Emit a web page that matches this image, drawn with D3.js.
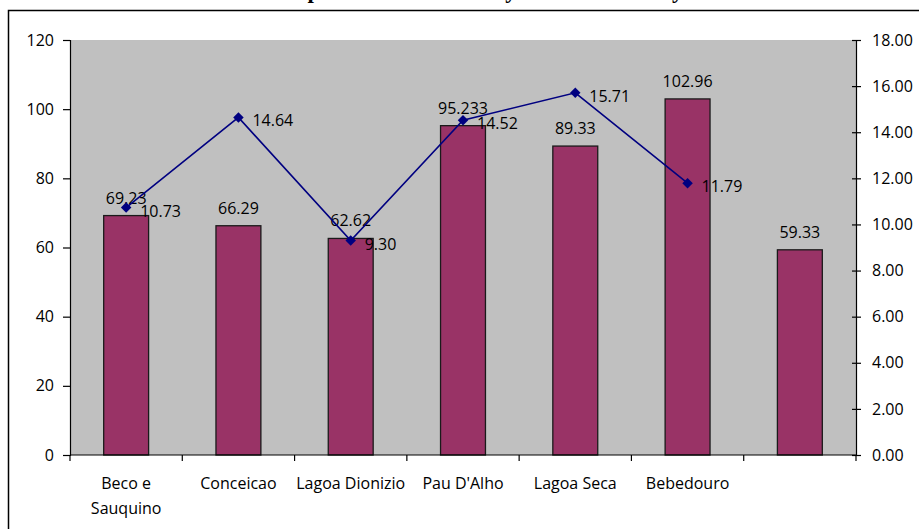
<!DOCTYPE html>
<html>
<head>
<meta charset="utf-8">
<script src="https://cdn.jsdelivr.net/npm/d3@7"></script>
<style>
  html, body { margin: 0; padding: 0; background: #ffffff; }
  svg { display: block; }
  text { font-family: "Open Sans", "Noto Sans", sans-serif; fill: #000; }
</style>
</head>
<body>
<svg id="chart" width="919" height="529"></svg>
<script>
// Localities along the x axis (the last slot has no name)
const categories = ["Beco e Sauquino", "Conceicao", "Lagoa Dionizio", "Pau D'Alho", "Lagoa Seca", "Bebedouro", ""];
// Bar series (left axis)
const barValues = [69.23, 66.29, 62.62, 95.233, 89.33, 102.96, 59.33];
// Line series (right axis); no point for the last slot
const lineValues = [10.73, 14.64, 9.30, 14.52, 15.71, 11.79, null];
// Axis ticks
const leftTicks = [0, 20, 40, 60, 80, 100, 120];
const rightTicks = [0, 2, 4, 6, 8, 10, 12, 14, 16, 18];
const chartTitle = "Temperature and Salinity in Each Locality";

const svg = d3.select("#chart");
const plot = { left: 70, right: 856, top: 40, bottom: 455 };

// Outer chart frame
svg.append("rect")
  .attr("x", 8.5).attr("y", 10.5)
  .attr("width", 1200).attr("height", 1200)
  .attr("fill", "#fff").attr("stroke", "#000").attr("stroke-width", 1.5);

// Title (sits above the frame)
svg.append("text")
  .attr("x", 265).attr("y", -2.5)
  .style("font-family", "'Liberation Serif', 'Times New Roman', serif")
  .style("font-weight", "bold")
  .style("font-size", "23px")
  .text(chartTitle);

const x = d3.scaleBand()
  .domain(categories)
  .range([plot.left, plot.right])
  .paddingInner(0.6)
  .paddingOuter(0.3);

const yL = d3.scaleLinear().domain([0, 120]).range([plot.bottom, plot.top]);
const yR = d3.scaleLinear().domain([0, 18]).range([plot.bottom, plot.top]);

// Plot background
svg.append("rect")
  .attr("x", plot.left).attr("y", plot.top)
  .attr("width", plot.right - plot.left).attr("height", plot.bottom - plot.top)
  .attr("fill", "#c0c0c0");

// Bars
svg.append("g").selectAll("rect")
  .data(barValues)
  .join("rect")
  .attr("x", (d, i) => x(categories[i]))
  .attr("y", d => yL(d))
  .attr("width", x.bandwidth())
  .attr("height", d => yL(0) - yL(d))
  .attr("fill", "#993366")
  .attr("stroke", "#1a1a1a")
  .attr("stroke-width", 1.3);

// Bar value labels
svg.append("g").selectAll("text")
  .data(barValues)
  .join("text")
  .attr("x", (d, i) => x(categories[i]) + x.bandwidth() / 2)
  .attr("y", d => yL(d) - 12)
  .attr("text-anchor", "middle")
  .style("font-size", "16px")
  .text(d => String(d));

// Left axis
const gL = svg.append("g")
  .attr("transform", `translate(${plot.left},0)`)
  .call(d3.axisLeft(yL).tickValues(leftTicks).tickSize(7).tickPadding(9).tickFormat(d3.format("d")));
gL.select(".domain").attr("stroke", "#000").attr("stroke-width", 1.2);
gL.selectAll(".tick line").attr("stroke", "#000").attr("stroke-width", 1.2);
gL.selectAll(".tick text").style("font-size", "16px").style("font-family", "'Open Sans', sans-serif").attr("fill", "#000");

// Right axis (ticks cross the axis line)
const gR = svg.append("g")
  .attr("transform", `translate(${plot.right},0)`)
  .call(d3.axisRight(yR).tickValues(rightTicks).tickSize(5).tickPadding(11).tickFormat(d3.format(".2f")));
gR.select(".domain").attr("stroke", "#000").attr("stroke-width", 1.2);
gR.selectAll(".tick line").attr("x1", -4).attr("stroke", "#000").attr("stroke-width", 1.2);
gR.selectAll(".tick text").style("font-size", "16px").style("font-family", "'Open Sans', sans-serif").attr("fill", "#000");

// Bottom axis: line plus ticks at category boundaries
const bottom = svg.append("g");
bottom.append("line")
  .attr("x1", plot.left).attr("x2", plot.right)
  .attr("y1", plot.bottom).attr("y2", plot.bottom)
  .attr("stroke", "#000").attr("stroke-width", 1.2);
const boundaries = d3.range(categories.length + 1).map(i => plot.left + i * x.step());
bottom.selectAll("line.tk")
  .data(boundaries)
  .join("line")
  .attr("class", "tk")
  .attr("x1", d => d).attr("x2", d => d)
  .attr("y1", plot.bottom).attr("y2", plot.bottom + 6)
  .attr("stroke", "#000").attr("stroke-width", 1.2);

// Category labels (wrapped onto two lines where needed)
const wrapLabel = s => s === "Beco e Sauquino" ? ["Beco e", "Sauquino"] : [s];
const catText = bottom.selectAll("text.cat")
  .data(categories)
  .join("text")
  .attr("class", "cat")
  .attr("x", d => x(d) + x.bandwidth() / 2)
  .attr("y", 489)
  .attr("text-anchor", "middle")
  .style("font-size", "16px");
catText.each(function(d) {
  const t = d3.select(this);
  wrapLabel(d).forEach((line, k) => {
    t.append("tspan")
      .attr("x", x(d) + x.bandwidth() / 2)
      .attr("dy", k === 0 ? 0 : 25)
      .text(line);
  });
});

// Line series
const pts = lineValues.map((v, i) => ({ v, c: categories[i] })).filter(p => p.v !== null);
const cx = p => x(p.c) + x.bandwidth() / 2;
svg.append("path")
  .datum(pts)
  .attr("fill", "none")
  .attr("stroke", "#000080")
  .attr("stroke-width", 1.6)
  .attr("d", d3.line().x(cx).y(p => yR(p.v)));

svg.append("g").selectAll("path")
  .data(pts)
  .join("path")
  .attr("transform", p => `translate(${cx(p)},${yR(p.v)})`)
  .attr("d", d3.symbol(d3.symbolDiamond2, 70))
  .attr("fill", "#000080");

// Line value labels
svg.append("g").selectAll("text")
  .data(pts)
  .join("text")
  .attr("x", p => cx(p) + 14)
  .attr("y", p => yR(p.v) + 9)
  .style("font-size", "16px")
  .text(p => p.v.toFixed(2));
</script>
</body>
</html>
